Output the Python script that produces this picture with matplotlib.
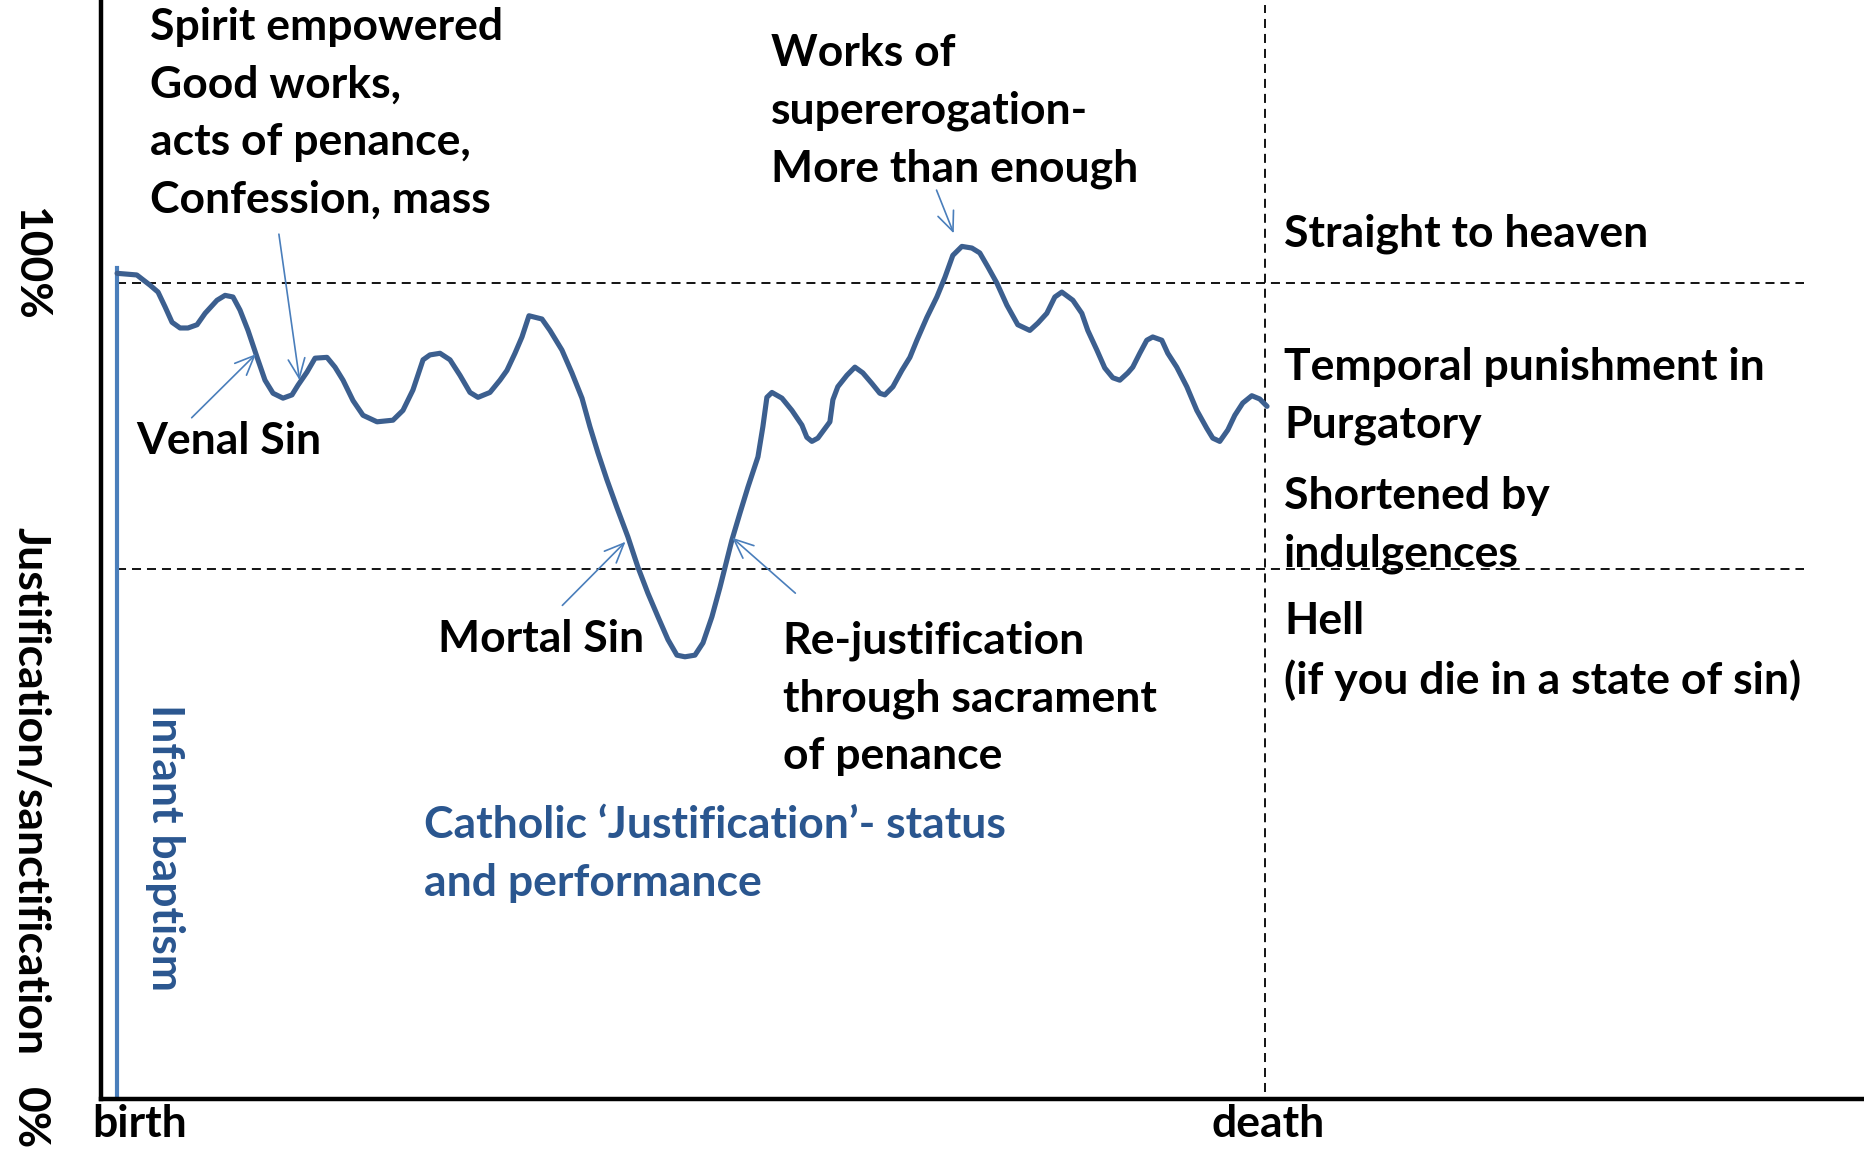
import matplotlib.pyplot as plt

# life position (birth = 0, death = 100) and justification level in %
life = [0, 1.72, 2.87, 3.57, 4.18, 4.79, 5.49, 6.18, 6.97, 7.67, 8.71, 9.41, 10.10,
        10.71, 11.41, 12.20, 12.89, 13.59, 14.46, 15.24, 15.77, 16.55, 17.25, 18.29,
        18.99, 19.69, 20.56, 21.43, 22.65, 24.04, 24.91, 25.78, 26.66, 27.26, 28.14,
        29.01, 29.88, 30.75, 31.45, 32.49, 33.36, 33.97, 34.67, 35.28, 35.89, 37.02,
        37.72, 38.76, 39.63, 40.51, 41.20, 41.90, 42.68, 43.55, 44.51, 45.38, 46.25,
        47.13, 48.00, 48.78, 49.48, 50.35, 51.05, 51.83, 52.53, 53.14, 53.57, 54.27,
        54.97, 55.84, 56.27, 56.62, 57.06, 57.93, 58.80, 59.67, 60.10, 60.54, 61.06,
        62.11, 62.37, 62.80, 63.59, 64.29, 64.98, 65.77, 66.46, 66.90, 67.60, 68.38,
        69.08, 69.69, 70.56, 71.43, 72.13, 72.82, 73.61, 74.48, 75.17, 75.87, 76.66,
        77.53, 78.48, 79.53, 80.23, 81.01, 81.71, 82.32, 83.28, 84.06, 84.58, 85.37,
        86.06, 86.76, 87.37, 88.07, 88.50, 89.11, 89.72, 90.24, 91.03, 91.55, 92.33,
        93.21, 94.08, 94.95, 95.47, 96.08, 96.78, 97.39, 98.08, 98.87, 99.56, 100.2]
level = [101.2, 101.0, 99.75, 98.9, 97.1, 95.2, 94.5, 94.5, 94.9, 96.3, 97.9, 98.5,
         98.3, 96.7, 94.2, 90.9, 88.1, 86.5, 85.9, 86.3, 87.5, 89.1, 90.8, 90.9, 89.7,
         88.1, 85.6, 83.8, 83.0, 83.2, 84.4, 86.9, 90.6, 91.2, 91.4, 90.6, 88.7, 86.6,
         86.0, 86.6, 88.1, 89.3, 91.4, 93.4, 96.0, 95.6, 94.2, 91.8, 89.0, 85.9, 82.4,
         79.2, 75.9, 72.5, 68.9, 65.2, 62.0, 59.1, 56.3, 54.4, 54.2, 54.4, 55.9, 59.1,
         62.7, 66.1, 68.5, 71.8, 75.0, 78.7, 82.4, 86.0, 86.6, 85.9, 84.4, 82.6, 81.1,
         80.6, 81.0, 83.0, 85.7, 87.3, 88.7, 89.7, 89.0, 87.7, 86.5, 86.3, 87.3, 89.3,
         90.9, 93.0, 95.8, 98.3, 100.7, 103.4, 104.5, 104.3, 103.7, 102.0, 100.0, 97.3,
         94.9, 94.2, 95.1, 96.3, 98.3, 98.9, 97.9, 96.3, 94.2, 91.8, 89.6, 88.4, 88.1,
         89.0, 89.7, 91.4, 93.0, 93.4, 93.0, 91.4, 89.7, 87.3, 84.4, 82.2, 81.0, 80.6,
         82.0, 83.8, 85.3, 86.2, 85.8, 84.9]

heaven_level = 100
hell_level = 65
birth = 0
death = 100

plt.rcParams['font.family'] = ['Lato', 'DejaVu Sans']

W, H = 1865, 1152
fig = plt.figure(figsize=(W / 100, H / 100), dpi=100)
ax = fig.add_axes([101 / W, 53 / H, (W - 101) / W, 1099 / H])
ax.set_xlim(-1.4, 152.3)
ax.set_ylim(0, 134.7)
ax.set_xticks([])
ax.set_yticks([])
for s in ['top', 'right']:
    ax.spines[s].set_visible(False)
for s in ['left', 'bottom']:
    ax.spines[s].set_linewidth(3.2)
    ax.spines[s].set_color('black')

curve_col = '#3C5F8F'
light_col = '#4A7EBB'
text_col = '#2A568F'
dash = (0, (5, 3.3))

# region boundaries
ax.plot([birth, 147], [heaven_level, heaven_level], color='black', lw=1.3, ls=dash)
ax.plot([birth, 147], [hell_level, hell_level], color='black', lw=1.3, ls=dash)
ax.plot([death, death], [0.9, 134.1], color='black', lw=1.3, ls=dash)

# infant baptism
ax.plot([birth, birth], [0, level[0] + 0.6], color=light_col, lw=3.0)

# life curve
ax.plot(life, level, color=curve_col, lw=3.7, solid_joinstyle='round',
        solid_capstyle='round')

fs = 32
kw = dict(fontsize=fs, fontweight='bold', color='black', linespacing=1.53)

ax.text(2.87, 120.8, 'Spirit empowered\nGood works,\nacts of penance,\nConfession, mass',
        ha='left', va='center', **kw)
ax.text(1.65, 80.6, 'Venal Sin', ha='left', va='center', **kw)
ax.text(28.0, 56.4, 'Mortal Sin', ha='left', va='center', **kw)
ax.text(58.0, 49.1, 'Re-justification\nthrough sacrament\nof penance',
        ha='left', va='center', **kw)
ax.text(57.0, 121.1, 'Works of\nsupererogation-\nMore than enough',
        ha='left', va='center', **kw)
ax.text(101.7, 106.0, 'Straight to heaven', ha='left', va='center', **kw)
ax.text(101.7, 86.2, 'Temporal punishment in\nPurgatory', ha='left', va='center', **kw)
ax.text(101.7, 70.3, 'Shortened by\nindulgences', ha='left', va='center', **kw)
ax.text(101.7, 54.9, 'Hell\n(if you die in a state of sin)', ha='left', va='center', **kw)
ax.text(26.7, 30.0, 'Catholic \u2018Justification\u2019- status\nand performance',
        ha='left', va='center', fontsize=fs, fontweight='bold', color=text_col,
        linespacing=1.53)
ax.text(4.2, 30.8, 'Infant baptism', ha='center', va='center', rotation=270,
        fontsize=fs, fontweight='bold', color=text_col)

# arrows
arrows = [((14.1, 106.0), (15.9, 88.1)),
          ((6.5, 83.5), (12.1, 91.3)),
          ((38.8, 60.5), (44.3, 68.3)),
          ((59.1, 62.0), (53.6, 68.8)),
          ((71.4, 111.4), (72.9, 106.1))]
for tail, head in arrows:
    ax.annotate('', xy=head, xytext=tail,
                arrowprops=dict(arrowstyle='->,head_length=0.7,head_width=0.3',
                                color=light_col, lw=1.2, shrinkA=0, shrinkB=0,
                                mutation_scale=20))

# axis labels
fig.text(30 / W, 1 - 791 / H, 'Justification/sanctification', rotation=270,
         ha='center', va='center', fontsize=fs, fontweight='bold')
fig.text(30 / W, 1 - 264 / H, '100%', rotation=270, ha='center', va='center',
         fontsize=fs, fontweight='bold')
fig.text(30 / W, 1 - 1118 / H, '0%', rotation=270, ha='center', va='center',
         fontsize=fs, fontweight='bold')
fig.text(140 / W, 1 - 1124 / H, 'birth', ha='center', va='center',
         fontsize=fs, fontweight='bold')
fig.text(1268 / W, 1 - 1124 / H, 'death', ha='center', va='center',
         fontsize=fs, fontweight='bold')

fig.savefig('out.png', dpi=100)
